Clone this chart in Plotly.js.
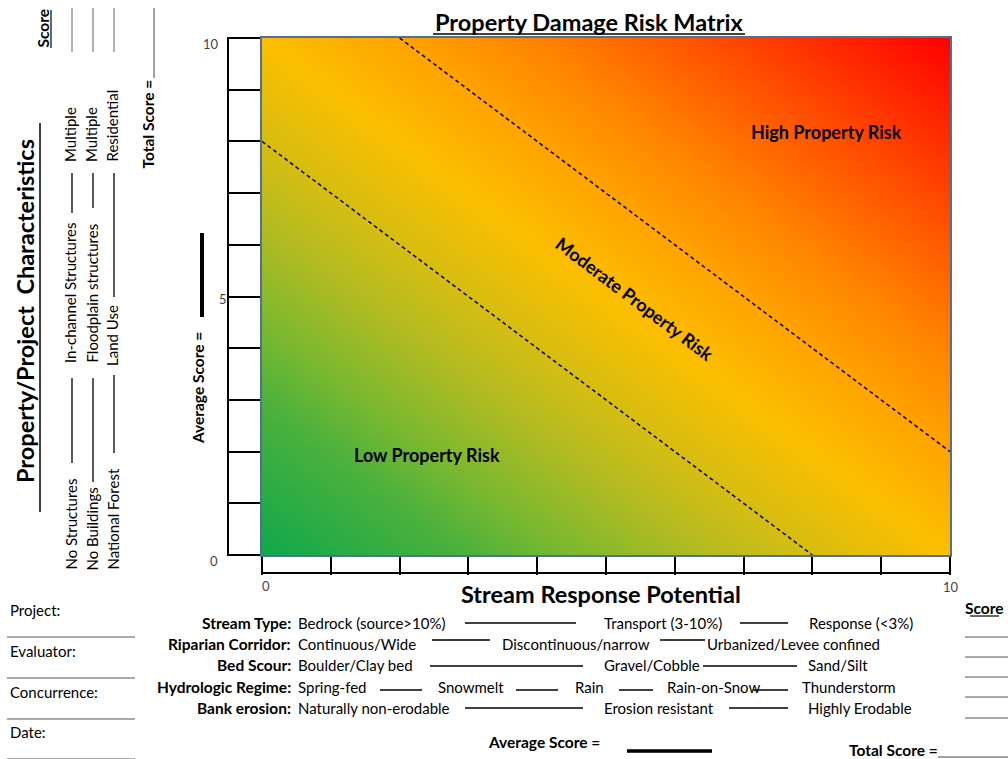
<!DOCTYPE html>
<html>
<head>
<meta charset="utf-8">
<script src="https://cdn.plot.ly/plotly-3.0.1.min.js"></script>
<style>html,body{margin:0;padding:0;background:#fff;}#chart{width:1008px;height:759px;}</style>
</head>
<body>
<div id="chart"></div>
<script>
// ---------- data ----------
const gradX = [0, 10];
const gradY = [0, 10];
const gradZ = [[0, 10], [10, 20]];          // risk sum at the four corners
const lowLineX = [0, 8];
const lowLineY = [8, 0];
const highLineX = [2, 10];
const highLineY = [10, 2];
const xTickLabels = ['0', '10'];
const yTickLabels = ['0', '5', '10'];
const regionNames = ['Low Property Risk', 'Moderate Property Risk', 'High Property Risk'];
const chartTitle = 'Property Damage Risk Matrix';
const xTitle = 'Stream Response Potential';
const yTitle = 'Property/Project\u00a0 Characteristics';
const streamFactors = ['Stream Type:', 'Riparian Corridor:', 'Bed Scour:', 'Hydrologic Regime:', 'Bank erosion:'];
const streamOptions = [
  ['Bedrock (source>10%)', 'Transport (3-10%)', 'Response (<3%)'],
  ['Continuous/Wide', 'Discontinuous/narrow', 'Urbanized/Levee confined'],
  ['Boulder/Clay bed', 'Gravel/Cobble', 'Sand/Silt'],
  ['Spring-fed', 'Snowmelt', 'Rain', 'Rain-on-Snow', 'Thunderstorm'],
  ['Naturally non-erodable', 'Erosion resistant', 'Highly Erodable']
];
const propertyRows = [
  ['No Structures', 'In-channel Structures', 'Multiple'],
  ['No Buildings', 'Floodplain structures', 'Multiple'],
  ['National Forest', 'Land Use', 'Residential']
];
const formFields = ['Project:', 'Evaluator:', 'Concurrence:', 'Date:'];

// ---------- layout positions (pixels) ----------
const L = 262, R = 950, T = 38, B = 555;
const X = p => (p - L) / (R - L);
const Y = p => (B - p) / (B - T);
const F = 'Lato, "Open Sans", sans-serif';
const ann = [], shp = [];
function txt(s, x, y, o) {
  o = o || {};
  const font = Object.assign({family: F, size: 15, color: '#000'}, o.font || {});
  const a = Object.assign({text: s, x: X(x), y: Y(y), xref: 'paper', yref: 'paper',
    showarrow: false, xanchor: 'center', yanchor: 'middle'}, o);
  a.font = font;
  ann.push(a);
}
function ln(x0, y0, x1, y1, w, c) {
  shp.push({type: 'line', xref: 'paper', yref: 'paper', x0: X(x0), y0: Y(y0), x1: X(x1), y1: Y(y1),
    line: {color: c || '#000', width: w || 1.5}, layer: 'above'});
}
const BF = {size: 15.5};

// title + x title
txt('<b>' + chartTitle + '</b>', 589, 22, {font: {size: 23.5}});
ln(433, 34, 745, 34, 1.5);
txt('<b>' + xTitle + '</b>', 601, 594, {font: {size: 23.5}});

// region labels
txt('<b>' + regionNames[0] + '</b>', 427, 455, {font: {size: 18}});
txt('<b>' + regionNames[1] + '</b>', 635, 299, {font: {size: 18}, textangle: 37});
txt('<b>' + regionNames[2] + '</b>', 826, 132, {font: {size: 18}});

// tick numbers
const small = {font: {size: 13, color: '#444'}};
txt(yTickLabels[2], 211, 44, small);
txt(yTickLabels[1], 223, 299, small);
txt(yTickLabels[0], 214, 561, small);
txt(xTickLabels[0], 266, 586, small);
txt(xTickLabels[1], 951, 587, small);

// ladder outer lines
ln(228, 38, 228, 556, 2);
ln(261, 573, 951, 573, 2);

// left vertical block
txt('<b>' + yTitle + '</b>', 25, 311, {textangle: -90, font: {size: 23.5}});
ln(40, 123, 40, 512, 1.5);
txt('<b>Score</b>', 43, 28.5, {textangle: -90, font: BF});
ln(51, 10, 51, 48, 1.2);
const colX = [70, 91, 112];
const colCenters = [[524.5, 293, 135], [529.5, 293.5, 135], [519.5, 336, 125.5]];
const colDashes = [[[378, 463], [173, 213]], [[378, 482], [173, 208]], [[375, 453], [173, 297]]];
propertyRows.forEach((row, i) => {
  row.forEach((s, j) => txt(s, colX[i], colCenters[i][j], {textangle: -90}));
  colDashes[i].forEach(d => ln(colX[i] + 2, d[0], colX[i] + 2, d[1], 1.3));
  ln(colX[i] + 2, 8, colX[i] + 2, 52, 1, '#666');
});
txt('<b>Total Score =</b>', 147, 124.5, {textangle: -90, font: BF});
ln(154, 8, 154, 78, 1, '#444');
txt('<b>Average Score =</b>', 198, 388, {textangle: -90, font: BF});
ln(202, 233, 202, 317, 4);

// bottom stream block
const rowY = [623, 644, 665, 687, 708];
const dashY = [623, 640, 666, 690, 708];
const segStarts = [[296, 602, 807], [296, 500, 705], [296, 602, 806], [296, 436, 573, 665, 800], [296, 602, 806]];
const segDashes = [
  [[465, 576], [740, 788]],
  [[432, 490], [660, 705]],
  [[430, 583], [703, 797]],
  [[380, 422], [516, 558], [619, 653], [753, 788]],
  [[465, 583], [729, 788]]
];
streamFactors.forEach((lab, i) => {
  txt('<b>' + lab + '</b>', 293, rowY[i], {xanchor: 'right', font: BF});
  streamOptions[i].forEach((s, j) => txt(s, segStarts[i][j], rowY[i], {xanchor: 'left'}));
  segDashes[i].forEach(d => ln(d[0], dashY[i], d[1], dashY[i], 1.5));
});
txt('<b>Average Score =</b>', 544, 742, {font: BF});
ln(627, 751, 712, 751, 3.5);
txt('<b>Total Score =</b>', 847, 750, {xanchor: 'left', font: BF});
ln(938, 757, 1008, 757, 1, '#444');
txt('<b>Score</b>', 984, 608, {font: BF});
ln(970, 616, 999, 616, 1.2);
[637, 657, 677, 697, 718].forEach(y => ln(965, y, 1008, y, 1, '#555'));

// left form
const formY = [610, 651, 692, 732];
formFields.forEach((s, i) => {
  txt(s, 8, formY[i], {xanchor: 'left'});
  ln(7, formY[i] + 27, 135, formY[i] + 27, 1, '#555');
});

// ---------- traces ----------
const traces = [
  {type: 'heatmap', x: gradX, y: gradY, z: gradZ, zsmooth: 'best', zmin: 0, zmax: 20, showscale: false, hoverinfo: 'skip',
   colorscale: [[0, '#0fa84c'], [0.15, '#4cb13c'], [0.22, '#78b830'], [0.32, '#b2bb22'], [0.4, '#d6bd12'],
                [0.5, '#fbbf00'], [0.6, '#ffa300'], [0.7, '#ff8200'], [0.8, '#ff5800'], [0.9, '#ff2c00'], [1, '#ff0000']]},
  {type: 'scatter', mode: 'lines', x: lowLineX, y: lowLineY, line: {color: '#000', width: 1.5, dash: '4px,3px'}, hoverinfo: 'skip'},
  {type: 'scatter', mode: 'lines', x: highLineX, y: highLineY, line: {color: '#000', width: 1.5, dash: '4px,3px'}, hoverinfo: 'skip'}
];

const axisBase = {range: [0, 10], showgrid: false, zeroline: false, showticklabels: false, ticks: 'outside',
  tickwidth: 2, tickcolor: '#000', dtick: 1, tick0: 0, showline: true, linecolor: '#52708f', linewidth: 2,
  mirror: true, fixedrange: true};
const layout = {
  width: 1008, height: 759,
  margin: {l: L, r: 1008 - R, t: T, b: 759 - B, pad: 0},
  paper_bgcolor: '#fff', plot_bgcolor: '#fff',
  showlegend: false,
  xaxis: Object.assign({}, axisBase, {ticklen: 18}),
  yaxis: Object.assign({}, axisBase, {ticklen: 33}),
  annotations: ann,
  shapes: shp,
  font: {family: F}
};
Plotly.newPlot('chart', traces, layout, {displayModeBar: false, staticPlot: true});
</script>
</body>
</html>
